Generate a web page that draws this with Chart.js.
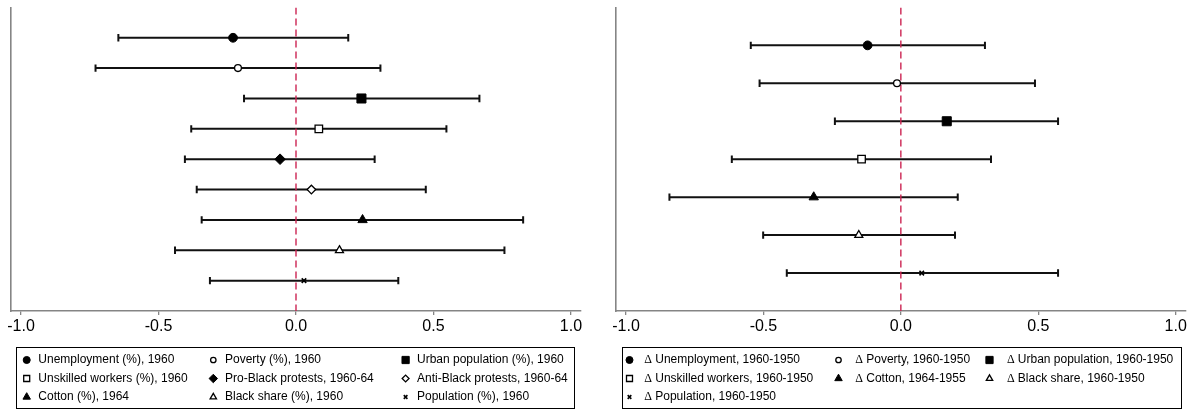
<!DOCTYPE html>
<html>
<head>
<meta charset="utf-8">
<script src="https://cdn.jsdelivr.net/npm/chart.js@4.4.1/dist/chart.umd.min.js"></script>
<style>
  html, body { margin: 0; padding: 0; background: #fff; }
  #wrap { position: relative; width: 1195px; height: 411px; overflow: hidden; }
  .panel { position: absolute; top: 0; height: 411px; }
  #left { left: 0; width: 598px; }
  #right { left: 598px; width: 597px; }
</style>
</head>
<body>
<div id="wrap">
  <div class="panel" id="left"><canvas id="cLeft" width="598" height="411"></canvas></div>
  <div class="panel" id="right"><canvas id="cRight" width="597" height="411"></canvas></div>
</div>
<script>
// Levels: point estimates with 95% confidence bounds
const levelLabels = [
  'Unemployment (%), 1960', 'Poverty (%), 1960', 'Urban population (%), 1960',
  'Unskilled workers (%), 1960', 'Pro-Black protests, 1960-64', 'Anti-Black protests, 1960-64',
  'Cotton (%), 1964', 'Black share (%), 1960', 'Population (%), 1960'
];
const levelCoef = [-0.229, -0.211, 0.238, 0.083, -0.058, 0.056, 0.242, 0.158, 0.029];
const levelLow  = [-0.646, -0.729, -0.189, -0.381, -0.404, -0.361, -0.343, -0.440, -0.313];
const levelHigh = [0.190, 0.307, 0.667, 0.547, 0.286, 0.472, 0.826, 0.758, 0.372];

// Changes between census years
const changeLabels = [
  'Δ Unemployment, 1960-1950', 'Δ Poverty, 1960-1950', 'Δ Urban population, 1960-1950',
  'Δ Unskilled workers, 1960-1950', 'Δ Cotton, 1964-1955', 'Δ Black share, 1960-1950',
  'Δ Population, 1960-1950'
];
const changeCoef = [-0.121, -0.014, 0.167, -0.143, -0.317, -0.153, 0.076];
const changeLow  = [-0.546, -0.514, -0.240, -0.615, -0.842, -0.501, -0.415];
const changeHigh = [0.306, 0.488, 0.572, 0.328, 0.207, 0.197, 0.572];

const xTicks = [-1.0, -0.5, 0.0, 0.5, 1.0];

// marker symbol used for each row
const levelMarkers  = ['dot', 'circle', 'square', 'squareHollow', 'diamond', 'diamondHollow', 'triangle', 'triangleHollow', 'x'];
const changeMarkers = ['dot', 'circle', 'square', 'squareHollow', 'triangle', 'triangleHollow', 'x'];

const MARKS = {
  dot:            { pointStyle: 'circle',   radius: 4.4, fill: '#000', bw: 1 },
  circle:         { pointStyle: 'circle',   radius: 3.4, fill: '#fff', bw: 1.3 },
  square:         { pointStyle: 'rect',     radius: 6.4, fill: '#000', bw: 1 },
  squareHollow:   { pointStyle: 'rect',     radius: 5.3, fill: '#fff', bw: 1.3 },
  diamond:        { pointStyle: 'rectRot',  radius: 5.3, fill: '#000', bw: 1 },
  diamondHollow:  { pointStyle: 'rectRot',  radius: 4.3, fill: '#fff', bw: 1.3 },
  triangle:       { pointStyle: 'triangle', radius: 5.4, fill: '#000', bw: 1 },
  triangleHollow: { pointStyle: 'triangle', radius: 4.6, fill: '#fff', bw: 1.3 },
  x:              { pointStyle: 'crossRot', radius: 3.2, fill: '#000', bw: 1.6 }
};

const SANS = '"Liberation Sans", Arial, Helvetica, sans-serif';
const SERIF = '"Liberation Serif", "Times New Roman", serif';
Chart.defaults.font.family = SANS;

const AXIS_GREY = '#858585';
const REF_RED = '#cc2352';
const X_LIMIT = 1.0364;

function drawMarker(ctx, m, scale, x, y) {
  ctx.save();
  ctx.fillStyle = m.fill;
  ctx.strokeStyle = '#000';
  ctx.lineWidth = m.bw;
  Chart.helpers.drawPoint(ctx, { pointStyle: m.pointStyle, radius: m.radius * scale, borderWidth: m.bw, rotation: 0 }, x, y);
  ctx.restore();
}

// Boxed three-column key under the axis
const boxLegend = {
  id: 'boxLegend',
  afterDraw(chart, args, o) {
    const ctx = chart.ctx;
    const a = chart.chartArea;
    const left = a.left + o.inset[0];
    const right = a.right - o.inset[1];
    ctx.save();
    ctx.strokeStyle = '#000';
    ctx.lineWidth = 1;
    ctx.strokeRect(Math.round(left) + 0.5, Math.round(o.top) + 0.5,
                   Math.round(right - left), Math.round(o.bottom - o.top));
    o.labels.forEach((label, i) => {
      const col = i % 3, row = Math.floor(i / 3);
      const y = o.rows[row];
      drawMarker(ctx, MARKS[o.markers[i]], 0.8, left + o.markX[col], y);
      ctx.fillStyle = '#000';
      ctx.textBaseline = 'middle';
      ctx.textAlign = 'left';
      let tx = left + o.textX[col];
      let text = label;
      if (text.startsWith('Δ')) {
        ctx.font = '12px ' + SERIF;
        ctx.fillText('Δ', tx, y);
        tx += ctx.measureText('Δ').width + 3.2;
        text = text.slice(2);
      }
      ctx.font = '12px ' + SANS;
      ctx.fillText(text, tx, y);
    });
    ctx.restore();
  }
};

function buildChart(canvasId, labels, coef, low, high, markers, padding, legendOpts) {
  const n = coef.length;
  const yMax = n + 1;
  const datasets = [];
  // confidence intervals with end caps
  for (let i = 0; i < n; i++) {
    const y = n - i;
    datasets.push({
      data: [{ x: low[i], y: y }, { x: high[i], y: y }],
      showLine: true,
      borderColor: '#111',
      borderWidth: 2,
      pointStyle: 'line',
      pointRotation: 90,
      pointRadius: 3.7,
      pointHoverRadius: 3.7,
      pointBorderColor: '#111',
      pointBorderWidth: 2,
      order: 3
    });
  }
  // vertical reference line at zero
  datasets.push({
    data: [{ x: 0, y: yMax }, { x: 0, y: 0 }],
    showLine: true,
    borderColor: REF_RED,
    borderWidth: 1.4,
    borderDash: [7, 4],
    pointRadius: 0,
    pointHoverRadius: 0,
    order: 2
  });
  // point estimates
  for (let i = 0; i < n; i++) {
    const m = MARKS[markers[i]];
    datasets.push({
      label: labels[i],
      data: [{ x: coef[i], y: n - i }],
      showLine: false,
      pointStyle: m.pointStyle,
      pointRadius: m.radius,
      pointHoverRadius: m.radius,
      backgroundColor: m.fill,
      pointBackgroundColor: m.fill,
      pointBorderColor: '#000',
      pointBorderWidth: m.bw,
      order: 1
    });
  }

  return new Chart(document.getElementById(canvasId), {
    type: 'scatter',
    data: { datasets },
    plugins: [boxLegend],
    options: {
      responsive: false,
      animation: false,
      events: [],
      layout: { padding: padding },
      plugins: {
        legend: { display: false },
        tooltip: { enabled: false },
        boxLegend: Object.assign({ labels: labels, markers: markers }, legendOpts)
      },
      scales: {
        x: {
          type: 'linear',
          min: -X_LIMIT,
          max: X_LIMIT,
          afterBuildTicks: (s) => { s.ticks = xTicks.map(v => ({ value: v })); },
          afterFit: (s) => { s.height = 26; },
          ticks: {
            color: '#000',
            font: { size: 16 },
            padding: 2,
            maxRotation: 0,
            autoSkip: false,
            callback: (v) => Number(v).toFixed(1)
          },
          grid: {
            display: true,
            drawOnChartArea: false,
            drawTicks: true,
            tickLength: 4,
            color: AXIS_GREY,
            lineWidth: 1.3
          },
          border: { display: true, color: AXIS_GREY, width: 1.6 }
        },
        y: {
          type: 'linear',
          min: 0,
          max: yMax,
          afterFit: (s) => { s.width = 0; },
          ticks: { display: false },
          grid: { display: false },
          border: { display: true, color: AXIS_GREY, width: 1.6 }
        }
      }
    }
  });
}

buildChart('cLeft', levelLabels, levelCoef, levelLow, levelHigh, levelMarkers,
  { left: 11, right: 17, top: 5, bottom: 74 },
  { inset: [5, 7], top: 347, bottom: 407.5, rows: [360, 378.5, 397],
    markX: [10.7, 197.3, 389.6], textX: [22.3, 209, 401] });

buildChart('cRight', changeLabels, changeCoef, changeLow, changeHigh, changeMarkers,
  { left: 18, right: 9.3, top: 5, bottom: 74 },
  { inset: [5.5, 5.2], top: 347, bottom: 407.5, rows: [360, 378.5, 397],
    markX: [8, 217, 368], textX: [22.8, 233.8, 385.4] });
</script>
</body>
</html>
